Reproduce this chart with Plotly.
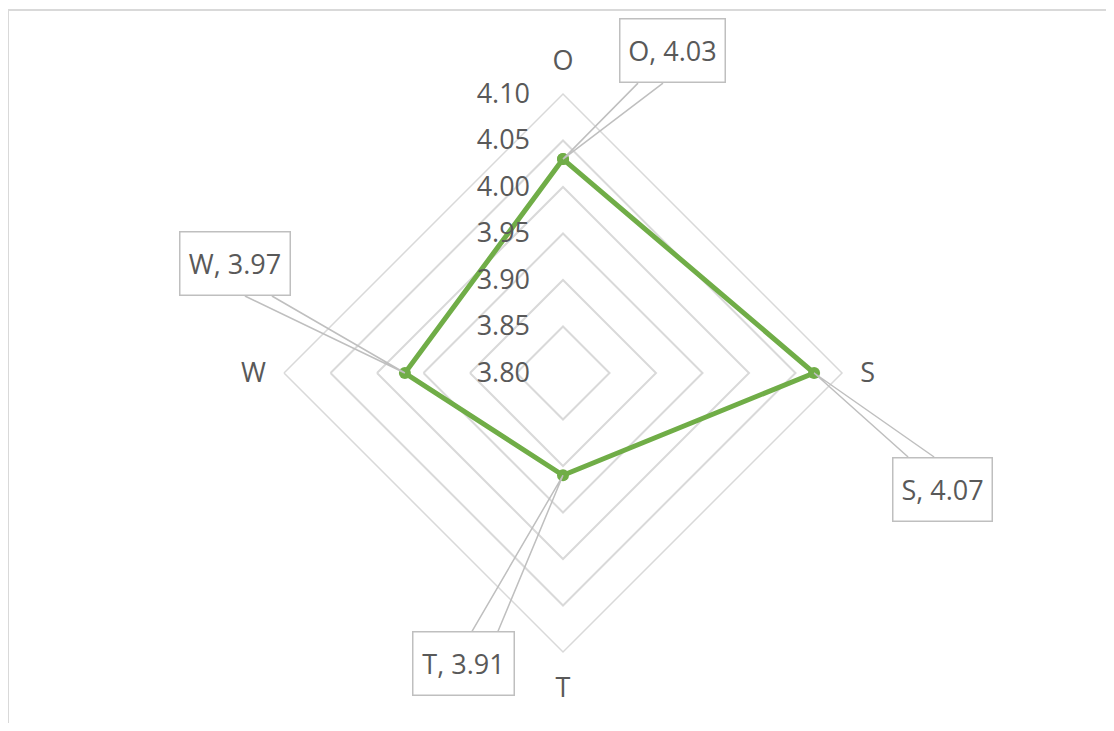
import math
import plotly.graph_objects as go

categories = ["O", "S", "T", "W"]
values = [4.03, 4.07, 3.91, 3.97]
radial_ticks = [3.80, 3.85, 3.90, 3.95, 4.00, 4.05, 4.10]
label_texts = [f"{c}, {v:.2f}" for c, v in zip(categories, values)]

# page body has an 8px margin; figure sized so it fits the 1114x731 window
OFF = 8
W, H = 1114 - 2 * OFF, 731 - 2 * OFF
CX, CY, R = 563 - OFF, 373 - OFF, 279
RMIN, RMAX = radial_ticks[0], radial_ticks[-1]

GREEN = "#70ad47"
GRID = "#d9d9d9"
TXT = "#595959"
CALL = "#bfbfbf"
FONT = "Open Sans"
FS = 27

fig = go.Figure()
fig.add_trace(go.Scatterpolar(
    r=values + values[:1],
    theta=categories + categories[:1],
    mode="lines+markers",
    line=dict(color=GREEN, width=5),
    marker=dict(color=GREEN, size=12),
    hoverinfo="skip",
    showlegend=False,
))

fig.update_layout(
    width=W, height=H,
    margin=dict(l=0, r=0, t=0, b=0),
    paper_bgcolor="white",
    font=dict(family=FONT, color=TXT, size=FS),
    polar=dict(
        domain=dict(x=[(CX - R) / W, (CX + R) / W], y=[(H - CY - R) / H, (H - CY + R) / H]),
        bgcolor="white",
        gridshape="linear",
        radialaxis=dict(
            range=[RMIN, RMAX],
            tickvals=radial_ticks,
            ticktext=[f"{t:.2f}" for t in radial_ticks],
            angle=90,
            tickangle=90,
            showline=False,
            ticks="outside",
            ticklen=23,
            tickcolor="rgba(0,0,0,0)",
            gridcolor=GRID,
            gridwidth=1.5,
            tickfont=dict(family=FONT, color=TXT, size=FS),
            side="counterclockwise",
        ),
        angularaxis=dict(
            rotation=90,
            direction="clockwise",
            showgrid=False,
            showline=True,
            linecolor=GRID,
            linewidth=1.5,
            ticks="outside",
            ticklen=12,
            tickcolor="rgba(0,0,0,0)",
            tickfont=dict(family=FONT, color=TXT, size=FS),
        ),
    ),
)

# callout boxes: offsets (px) of box centre from point, box size, wedge base (relative to box centre)
box_off = [(109.5, -108.5), (128.5, 116.5), (-99.5, 188.5), (-170, -109.5)]
box_size = [(107, 65), (101, 65), (103, 65), (112, 65)]
wedge = [(-34.5, -9.5, 32.5), (-34.5, -8.5, -32.5), (8.5, 34.5, -32.5), (10, 37, 32.5)]

n = len(categories)
shapes = []
for i, (cat, v) in enumerate(zip(categories, values)):
    ang = math.radians(90 - i * 360 / n)
    rr = R * (v - RMIN) / (RMAX - RMIN)
    px = CX + rr * math.cos(ang)
    py = CY - rr * math.sin(ang)
    bx, by = px + box_off[i][0], py + box_off[i][1]
    bw, bh = box_size[i]
    wx0, wx1, wy = wedge[i]
    path = (f"M {(bx + wx0) / W},{1 - (by + wy) / H} "
            f"L {px / W},{1 - py / H} "
            f"L {(bx + wx1) / W},{1 - (by + wy) / H}")
    shapes.append(dict(type="path", xref="paper", yref="paper", path=path,
                       line=dict(color=CALL, width=1.5), fillcolor="rgba(0,0,0,0)"))
    fig.add_annotation(
        x=bx / W, y=1 - by / H, xref="paper", yref="paper",
        xanchor="center", yanchor="middle",
        text=label_texts[i], showarrow=False,
        width=bw - 3, height=bh - 3, borderpad=0,
        bordercolor=CALL, borderwidth=1.5, bgcolor="white",
        font=dict(family=FONT, color=TXT, size=FS),
    )

# outer chart frame (top and left visible)
shapes.append(dict(type="rect", xref="paper", yref="paper",
                   x0=0 / W, y0=-0.05, x1=1.05, y1=1 - 2 / H,
                   line=dict(color=GRID, width=2), layer="below"))
fig.update_layout(shapes=shapes)

fig.write_html("out.html")
